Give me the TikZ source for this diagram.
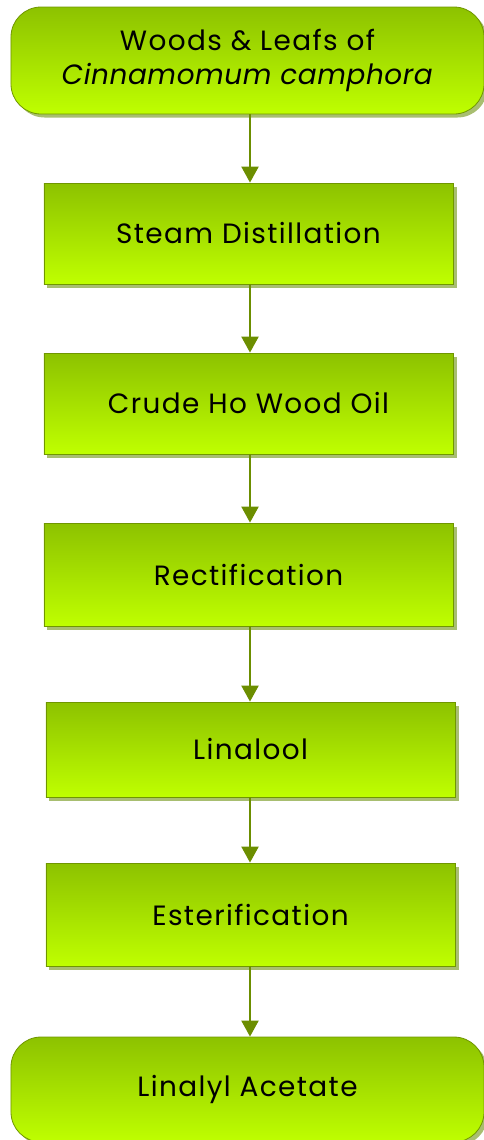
\documentclass[tikz,border=0pt]{standalone}
\usepackage{fontspec}
\setmainfont{Poppins}[LetterSpace=5, ItalicFeatures={LetterSpace=2}]
\usetikzlibrary{shadows,arrows.meta}
\definecolor{gtop}{RGB}{141,194,0}
\definecolor{gbot}{RGB}{191,255,0}
\definecolor{gborder}{RGB}{112,150,0}
\definecolor{gshadow}{RGB}{168,190,112}
\definecolor{garrow}{RGB}{108,142,0}
\tikzset{
  stepbox/.style={draw=gborder, line width=0.8bp, top color=gtop, bottom color=gbot,
    drop shadow={shadow xshift=3.5bp, shadow yshift=-3.5bp, fill=gshadow, opacity=1},
    minimum width=409bp, inner sep=0pt, align=center, font=\fontsize{28}{35}\selectfont},
  termbox/.style={stepbox, rounded corners=30bp, minimum width=473bp},
  arr/.style={draw=garrow, line width=2.2bp, -{Triangle[length=16bp,width=17bp]}, fill=garrow}
}
\begin{document}
\begin{tikzpicture}[x=1bp,y=-1bp]
\useasboundingbox (0,0) rectangle (484,1140);
\coordinate (col) at (250,0);
\node[termbox, minimum height=107bp] (start) at (247.5,60.5) {Woods \& Leafs of\\\textit{Cinnamomum camphora}};
\node[stepbox, minimum height=101bp] (s1) at (248.5,233.5) {Steam Distillation};
\node[stepbox, minimum height=101bp] (s2) at (248.5,403.5) {Crude Ho Wood Oil};
\node[stepbox, minimum height=103bp] (s3) at (248.5,574.5) {Rectification};
\node[stepbox, minimum height=95bp] (s4) at (250.5,749.5) {Linalool};
\node[stepbox, minimum height=103bp] (s5) at (250.5,914.5) {Esterification};
\node[termbox, minimum height=105bp] (end) at (247.5,1089.5) {Linalyl Acetate};
\draw[arr] (start.south -| col) -- (s1.north -| col);
\draw[arr] (s1.south -| col) -- (s2.north -| col);
\draw[arr] (s2.south -| col) -- (s3.north -| col);
\draw[arr] (s3.south -| col) -- (s4.north -| col);
\draw[arr] (s4.south -| col) -- (s5.north -| col);
\draw[arr] (s5.south -| col) -- (end.north -| col);
\end{tikzpicture}
\end{document}
